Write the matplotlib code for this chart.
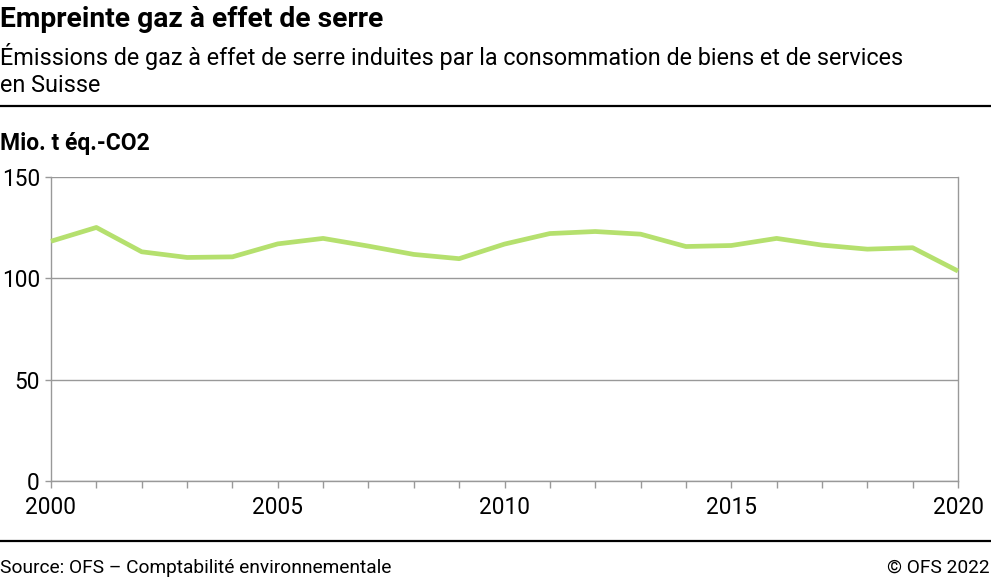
import matplotlib
matplotlib.use("Agg")
import matplotlib.pyplot as plt
from matplotlib.lines import Line2D

years = list(range(2000, 2021))
values = [118.3, 125.1, 113.1, 110.3, 110.6, 117.0, 119.7, 115.9, 111.8, 109.7,
          116.9, 122.1, 123.1, 121.8, 115.7, 116.2, 119.7, 116.4, 114.4, 115.1, 103.6]
yticks = [0, 50, 100, 150]
xticks = [2000, 2005, 2010, 2015, 2020]

plt.rcParams['font.family'] = ['Roboto', 'DejaVu Sans']

W, H = 991, 580
fig = plt.figure(figsize=(W / 100, H / 100), dpi=100)

def fx(px):
    return px / W

def fy(py):
    return 1 - py / H

ax = fig.add_axes([fx(51), fy(481), fx(958 - 51), (481 - 177) / H])
ax.plot(years, values, color='#b5e06e', lw=3.4, solid_capstyle='butt', clip_on=False, zorder=3)
ax.set_xlim(2000, 2020)
ax.set_ylim(0, 150)
ax.set_yticks(yticks)
ax.set_xticks(years, minor=True)
ax.set_xticks(xticks)
ax.set_xticklabels([str(x) for x in xticks])
ax.tick_params(axis='x', which='both', length=5, color='#999999', width=1, pad=6, labelsize=16.3)
ax.tick_params(axis='y', which='both', length=4, color='#999999', width=1, pad=4, labelsize=16.3)
ax.grid(axis='y', color='#999999', lw=1)
ax.set_axisbelow(True)
for s in ['left', 'right', 'bottom']:
    ax.spines[s].set_color('#999999')
    ax.spines[s].set_linewidth(1)
ax.spines['top'].set_visible(False)

fig.text(0, fy(27), "Empreinte gaz à effet de serre", fontsize=20.3, fontweight='bold',
         ha='left', va='baseline')
fig.text(0, fy(65), "Émissions de gaz à effet de serre induites par la consommation de biens et de services",
         fontsize=16.85, ha='left', va='baseline')
fig.text(0, fy(92), "en Suisse", fontsize=16.85, ha='left', va='baseline')
fig.add_artist(Line2D([0, 1], [fy(105.5), fy(105.5)], color='black', lw=1.6, transform=fig.transFigure))
fig.text(0, fy(150), "Mio. t éq.-CO2", fontsize=16.5, fontweight='bold', ha='left', va='baseline')
fig.add_artist(Line2D([0, 1], [fy(541), fy(541)], color='black', lw=1.6, transform=fig.transFigure))
fig.text(0, fy(573), "Source: OFS – Comptabilité environnementale", fontsize=13.8, ha='left', va='baseline')
fig.text(fx(990), fy(573), "© OFS 2022", fontsize=13.8, ha='right', va='baseline')

fig.savefig("out.png", dpi=100)
